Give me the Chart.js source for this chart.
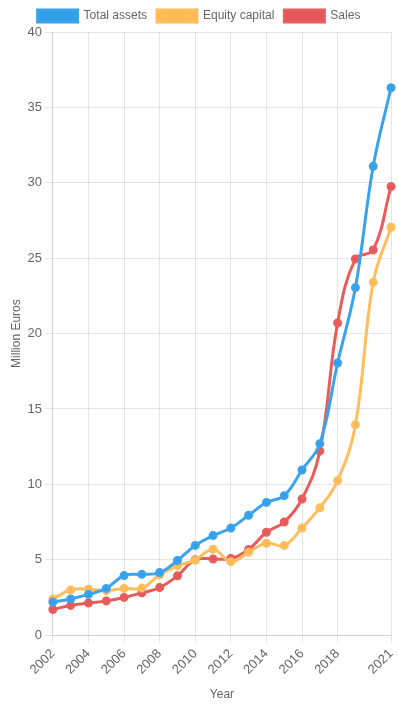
<!DOCTYPE html>
<html>
<head>
<meta charset="utf-8">
<script src="https://cdn.jsdelivr.net/npm/chart.js"></script>
<style>
  html, body { margin: 0; padding: 0; background: #fff; }
  #wrap { width: 398px; height: 706px; position: relative; }
</style>
</head>
<body>
<div id="wrap"><canvas id="chart"></canvas></div>
<script>
// Dados (milhões de euros)
const years = ['2002', '2003', '2004', '2005', '2006', '2007', '2008', '2009', '2010', '2011',
               '2012', '2013', '2014', '2015', '2016', '2017', '2018', '2019', '2020', '2021'];

const totalAssets = [2.2, 2.4, 2.7, 3.1, 3.95, 4.03, 4.15, 4.95, 5.95, 6.6,
                     7.1, 7.95, 8.8, 9.25, 10.95, 12.7, 18.05, 23.05, 31.1, 36.3];

const equityCapital = [2.4, 3.0, 3.05, 2.95, 3.1, 3.12, 4.0, 4.6, 4.97, 5.7,
                       4.87, 5.5, 6.1, 5.95, 7.1, 8.45, 10.25, 13.95, 23.4, 27.05];

const sales = [1.7, 1.97, 2.13, 2.27, 2.5, 2.8, 3.15, 3.93, 5.0, 5.05,
               5.08, 5.68, 6.82, 7.5, 9.03, 12.2, 20.7, 24.95, 25.55, 29.75];

// Anos com rótulo no eixo X
const shownYears = ['2002', '2004', '2006', '2008', '2010', '2012', '2014', '2016', '2018', '2021'];

const yMax = 40;
const yStep = 5;

Chart.defaults.font.family = "'Helvetica Neue', Helvetica, Arial, sans-serif";
Chart.defaults.font.size = 12;
Chart.defaults.color = '#666';

function isShown(index) {
    return shownYears.includes(years[index]);
}

const ctx = document.getElementById('chart').getContext('2d');

new Chart(ctx, {
    type: 'line',
    data: {
        labels: years,
        datasets: [
            {
                label: 'Total assets',
                data: totalAssets,
                borderColor: '#3aa3eb',
                backgroundColor: '#2f9fe6',
                borderWidth: 3,
                tension: 0.4,
                pointRadius: 3,
                fill: false
            },
            {
                label: 'Equity capital',
                data: equityCapital,
                borderColor: '#ffbd5c',
                backgroundColor: '#ffba55',
                borderWidth: 3,
                tension: 0.4,
                pointRadius: 3,
                fill: false
            },
            {
                label: 'Sales',
                data: sales,
                borderColor: '#e85c5c',
                backgroundColor: '#e35858',
                borderWidth: 3,
                tension: 0.4,
                pointRadius: 3,
                fill: false
            }
        ]
    },
    options: {
        responsive: true,
        maintainAspectRatio: false,
        animation: false,
        plugins: {
            legend: {
                display: true,
                position: 'top'
            }
        },
        scales: {
            y: {
                min: 0,
                max: yMax,
                ticks: {
                    stepSize: yStep,
                    font: { size: 13 }
                },
                title: {
                    display: true,
                    text: 'Million Euros',
                    padding: { top: 9, bottom: 1 }
                }
            },
            x: {
                ticks: {
                    autoSkip: false,
                    maxRotation: 45,
                    minRotation: 45,
                    font: { size: 13 },
                    callback: function(value, index) {
                        return isShown(index) ? years[index] : '';
                    }
                },
                grid: {
                    color: function(context) {
                        return isShown(context.index) ? 'rgba(0, 0, 0, 0.1)' : 'rgba(0, 0, 0, 0)';
                    }
                },
                afterFit: function(scale) {
                    scale.paddingRight = 7;
                },
                title: {
                    display: true,
                    text: 'Year',
                    padding: { top: 7, bottom: 4 }
                }
            }
        }
    }
});
</script>
</body>
</html>
